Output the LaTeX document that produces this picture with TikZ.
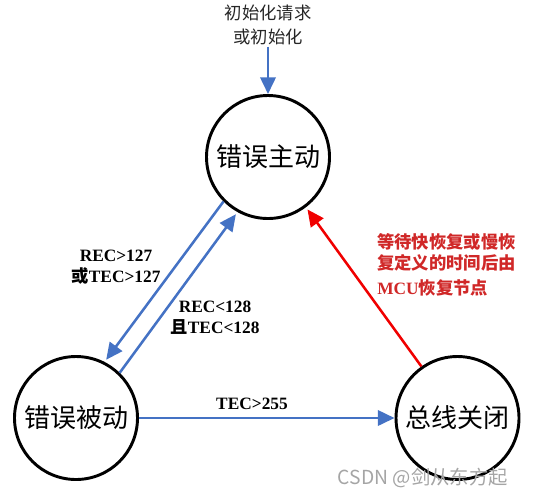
\documentclass[tikz,border=0pt]{standalone}
\usepackage{fontspec}
\setmainfont{Liberation Serif}
\newfontfamily\cjk{Noto Sans CJK SC}
\usetikzlibrary{arrows.meta}
\definecolor{arrowblue}{RGB}{68,114,196}
\definecolor{arrowred}{RGB}{240,0,0}
\definecolor{textred}{RGB}{208,40,40}
\definecolor{wmgray}{RGB}{165,165,165}
\begin{document}
\begin{tikzpicture}[x=0.75pt,y=-0.75pt,
  state/.style={circle,draw=black,line width=2.2pt,minimum size=92.25pt,inner sep=0pt,
    font=\cjk\fontsize{19.5}{23}\selectfont},
  blueline/.style={draw=arrowblue,line width=1.9pt,-{Triangle[length=12.5pt,width=11.5pt]},shorten >=2pt},
  redline/.style={draw=arrowred,line width=1.9pt,-{Triangle[length=12.5pt,width=11.5pt]},shorten >=2pt},
  cond/.style={font=\bfseries\fontsize{13}{16}\selectfont,align=center,inner sep=0pt},
]
\useasboundingbox (0,0) rectangle (534,497);
\node[state] (A) at (268,157) {错误主动};
\node[state] (P) at (76,418) {错误被动};
\node[state] (B) at (457.5,418) {总线关闭};

\node[font=\cjk\fontsize{13}{18}\selectfont,text=black!85,align=center,inner sep=1pt] (init) at (268,25) {初始化请求\\或初始化};
\draw[blueline,shorten >=0pt] (init.south) -- (A.north);

\draw[blueline] (A.225.6) -- (P.63);
\draw[blueline] (P.46.2) -- (A.241.9);
\draw[redline] (B.125.6) -- (A.-53.7);
\draw[blueline,shorten >=0pt] (P.east) -- (B.west);

\node[cond] (l1) at (116,267) {REC>127\\{\cjk 或}TEC>127};
\node[cond] (l2) at (215,318) {REC<128\\{\cjk 且}TEC<128};
\node[cond] (l3) at (252,404) {TEC>255};
\node[cond,text=textred,align=left,anchor=north west] (l4) at (377,233)
  {{\cjk 等待快恢复或慢恢}\\{\cjk 复定义的时间后由}\\[3pt]MCU{\cjk 恢复节点}};

\node[font=\cjk\fontsize{14.5}{17}\selectfont,text=wmgray,anchor=east,inner sep=0pt] (wm) at (508,478) {CSDN @剑从东方起};
\end{tikzpicture}
\end{document}
